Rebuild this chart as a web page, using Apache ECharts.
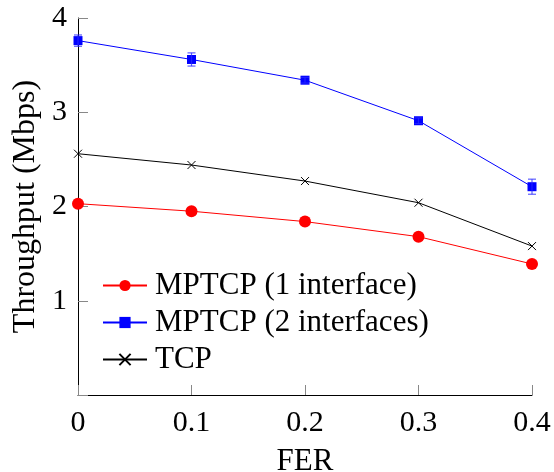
<!DOCTYPE html>
<html>
<head>
<meta charset="utf-8">
<script src="https://cdn.jsdelivr.net/npm/echarts@6/dist/echarts.min.js"></script>
<style>
  html, body { margin: 0; padding: 0; background: #fff; }
  #chart { width: 554px; height: 472px; }
</style>
</head>
<body>
<div id="chart"></div>
<script>
// FER values on the x axis
const fer = [0, 0.1, 0.2, 0.3, 0.4];
// throughput in Mbps
const mptcp1 = [2.03, 1.95, 1.84, 1.68, 1.39];
const mptcp2 = [3.76, 3.56, 3.34, 2.91, 2.21];
const tcp = [2.56, 2.44, 2.27, 2.04, 1.58];
// half-width of the error bars on the 2-interface series
const mptcp2Err = [0.06, 0.07, 0.03, 0.03, 0.08];

const font = "'Liberation Serif', 'DejaVu Serif', serif";
const crossPath = "path://M0,0L10,10M10,0L0,10";

function pairs(ys) {
  return fer.map((x, i) => [x, ys[i]]);
}

const errData = fer.map((x, i) => [x, mptcp2[i] - mptcp2Err[i], mptcp2[i] + mptcp2Err[i]]);

const chart = echarts.init(document.getElementById("chart"));
chart.setOption({
  animation: false,
  grid: { left: 78, right: 22, top: 18, bottom: 77, containLabel: false, outerBoundsMode: "none" },
  xAxis: {
    type: "value",
    min: 0,
    max: 0.4,
    interval: 0.1,
    name: "FER",
    nameLocation: "middle",
    nameGap: 51,
    nameTextStyle: { fontFamily: font, fontSize: 31, color: "#000" },
    axisLine: { lineStyle: { color: "#000", width: 1 } },
    axisTick: { inside: true, length: 10, lineStyle: { color: "#888" } },
    axisLabel: { fontFamily: font, fontSize: 30, color: "#000", margin: 13 },
    splitLine: { show: false },
  },
  yAxis: {
    type: "value",
    min: 0,
    max: 4,
    interval: 1,
    name: "Throughput (Mbps)",
    nameLocation: "middle",
    nameRotate: 90,
    nameGap: 34,
    nameTextStyle: { fontFamily: font, fontSize: 32, color: "#000" },
    axisLine: { show: true, lineStyle: { color: "#000", width: 1 } },
    axisTick: { show: true, inside: true, length: 10, lineStyle: { color: "#888" } },
    axisLabel: {
      fontFamily: font,
      fontSize: 30,
      color: "#000",
      margin: 11,
      formatter: (v) => (v === 0 ? "" : String(v)),
    },
    splitLine: { show: false },
  },
  legend: {
    orient: "vertical",
    left: 102,
    top: 270,
    padding: 0,
    itemWidth: 44,
    itemHeight: 14,
    itemGap: 6,
    textStyle: { fontFamily: font, fontSize: 31, color: "#000", padding: [0, 0, 0, 3] },
    data: ["MPTCP (1 interface)", "MPTCP (2 interfaces)", "TCP"],
  },
  series: [
    {
      name: "MPTCP (1 interface)",
      type: "line",
      data: pairs(mptcp1),
      symbol: "circle",
      symbolSize: 12,
      color: "#ff0000",
      lineStyle: { width: 1, color: "#ff0000" },
      itemStyle: { color: "#ff0000" },
    },
    {
      name: "MPTCP (2 interfaces)",
      type: "line",
      data: pairs(mptcp2),
      symbol: "rect",
      symbolSize: 9,
      color: "#0000ff",
      lineStyle: { width: 1, color: "#0000ff" },
      itemStyle: { color: "#0000ff" },
      z: 3,
    },
    {
      name: "TCP",
      type: "line",
      data: pairs(tcp),
      symbol: crossPath,
      symbolSize: 8,
      color: "#000",
      lineStyle: { width: 1, color: "#000" },
      itemStyle: { color: "#000", borderColor: "#000", borderWidth: 1 },
    },
    {
      name: "err",
      type: "custom",
      data: errData,
      z: 4,
      renderItem: (params, api) => {
        const x = api.value(0);
        const lo = api.coord([x, api.value(1)]);
        const hi = api.coord([x, api.value(2)]);
        const w = 4;
        const style = { stroke: "rgba(40,40,255,0.75)", lineWidth: 1.2 };
        return {
          type: "group",
          children: [
            { type: "line", shape: { x1: hi[0], y1: hi[1], x2: lo[0], y2: lo[1] }, style },
            { type: "line", shape: { x1: hi[0] - w, y1: hi[1], x2: hi[0] + w, y2: hi[1] }, style },
            { type: "line", shape: { x1: lo[0] - w, y1: lo[1], x2: lo[0] + w, y2: lo[1] }, style },
          ],
        };
      },
    },
  ],
});
</script>
</body>
</html>
